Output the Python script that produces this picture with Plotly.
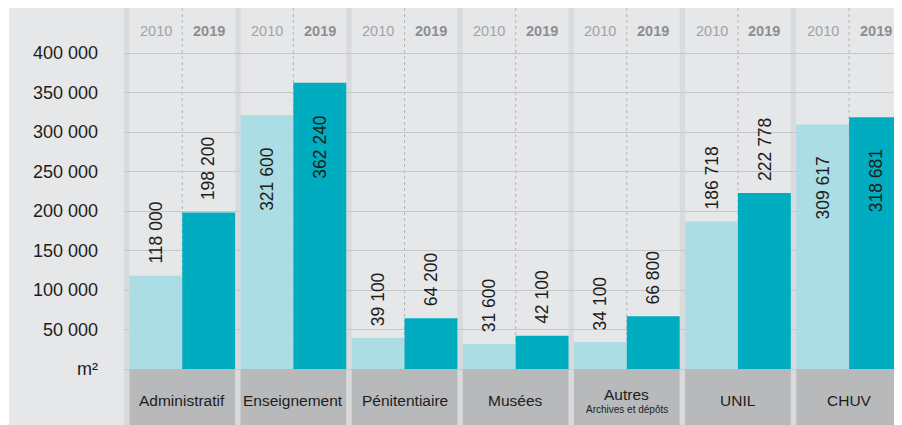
import plotly.graph_objects as go

# ---------------- data ----------------
categories = ["Administratif", "Enseignement", "Pénitentiaire", "Musées", "Autres", "UNIL", "CHUV"]
subtitles = ["", "", "", "", "Archives et dépôts", "", ""]
years = ["2010", "2019"]
values_2010 = [118000, 321600, 39100, 31600, 34100, 186718, 309617]
values_2019 = [198200, 362240, 64200, 42100, 66800, 222778, 318681]
tick_values = [0, 50000, 100000, 150000, 200000, 250000, 300000, 350000, 400000]
tick_labels = ["m²", "50 000", "100 000", "150 000", "200 000", "250 000", "300 000", "350 000", "400 000"]

# ---------------- style ----------------
FONT = "Liberation Sans, Arial, Helvetica, sans-serif"
C_LIGHT = "#acdde4"
C_DARK = "#00acbf"
BG = "#e6e7e9"
SEP = "#d9dadc"
BOX = "#b8b9bb"
GRID = "#c6c7c9"
TXT = "#1d1d1b"

# the page body has an 8px margin, so the figure is placed at (8, 8) in the window
OFF = 8
PAGE_W, PAGE_H = 902, 425
W, H = PAGE_W - OFF, PAGE_H - OFF
ML = 124 - OFF          # plot area starts at page x=124
MT = 0                  # plot area starts at page y=8
BASE_PX = 369           # page pixel row of value 0
PX_PER_UNIT = 39.5 / 50000


def py(px):
    """page pixel row -> data value"""
    return (BASE_PX - px) / PX_PER_UNIT


y_top = py(OFF + MT)
y_bot = py(PAGE_H)

n = len(categories)
x = list(range(n))
gap = 0.048
half = (1 - gap) / 4  # centre offset of each half-bar

fig = go.Figure()
fig.add_trace(go.Bar(x=x, y=values_2010, name=years[0], marker=dict(color=C_LIGHT, line=dict(width=0)),
                     hoverinfo="skip"))
fig.add_trace(go.Bar(x=x, y=values_2019, name=years[1], marker=dict(color=C_DARK, line=dict(width=0)),
                     hoverinfo="skip"))

shapes = []
plot_w = W - ML
# left grey column (page x 9 .. 124)
shapes.append(dict(type="rect", xref="paper", yref="paper", x0=-(124 - 9) / plot_w, x1=0, y0=0, y1=1,
                   fillcolor=BG, line=dict(width=0), layer="below"))
for i in range(n):
    shapes.append(dict(type="rect", xref="x", yref="paper", x0=i - 0.5 - gap / 2, x1=i - 0.5 + gap / 2,
                       y0=0, y1=1, fillcolor=SEP, line=dict(width=0), layer="between"))
    shapes.append(dict(type="line", xref="x", yref="paper", x0=i, x1=i, y0=0, y1=1,
                       line=dict(color="#b4b5b7", width=1, dash="dot"), layer="between"))
    shapes.append(dict(type="rect", xref="x", yref="y", x0=i - 0.5 + gap / 2, x1=i + 0.5 - gap / 2,
                       y0=y_bot, y1=0, fillcolor=BOX, line=dict(width=0), layer="between"))

annotations = []
for i in range(n):
    annotations.append(dict(x=i - half, y=py(31), xref="x", yref="y", text=years[0], showarrow=False,
                            font=dict(family=FONT, size=14.5, color="#a2a3a5")))
    annotations.append(dict(x=i + half, y=py(31), xref="x", yref="y", text="<b>" + years[1] + "</b>",
                            showarrow=False, font=dict(family=FONT, size=14.5, color="#8d8e90")))
    if subtitles[i]:
        annotations.append(dict(x=i, y=py(394), xref="x", yref="y", text=categories[i], showarrow=False,
                                font=dict(family=FONT, size=15.5, color=TXT)))
        annotations.append(dict(x=i, y=py(409.5), xref="x", yref="y", text=subtitles[i], showarrow=False,
                                font=dict(family=FONT, size=10, color=TXT)))
    else:
        annotations.append(dict(x=i, y=py(400), xref="x", yref="y", text=categories[i], showarrow=False,
                                font=dict(family=FONT, size=15.5, color=TXT)))
    for off, vals in ((-half, values_2010), (half, values_2019)):
        v = vals[i]
        label = f"{v:,}".replace(",", " ")
        inside = v > 300000
        annotations.append(dict(x=i + off, y=v, xref="x", yref="y", text=label, showarrow=False,
                                textangle=-90, yanchor="top" if inside else "bottom",
                                yshift=-30 if inside else 10,
                                font=dict(family=FONT, size=17.5, color=TXT)))

fig.update_layout(
    width=W, height=H,
    margin=dict(l=ML, r=0, t=MT, b=0, pad=0),
    paper_bgcolor="white",
    plot_bgcolor=BG,
    barmode="group", bargap=gap, bargroupgap=0,
    showlegend=False,
    shapes=shapes,
    annotations=annotations,
    xaxis=dict(range=[-0.5 - gap / 2, n - 0.5 - gap / 2], showgrid=False, zeroline=False,
               showticklabels=False, ticks="", fixedrange=True),
    yaxis=dict(range=[y_bot, y_top], tickvals=tick_values, ticktext=tick_labels,
               showgrid=True, gridcolor=GRID, gridwidth=1.3, zeroline=False, ticks="",
               ticklabelstandoff=25, tickfont=dict(family=FONT, size=18, color=TXT), fixedrange=True),
)

fig.write_html("out.html")
